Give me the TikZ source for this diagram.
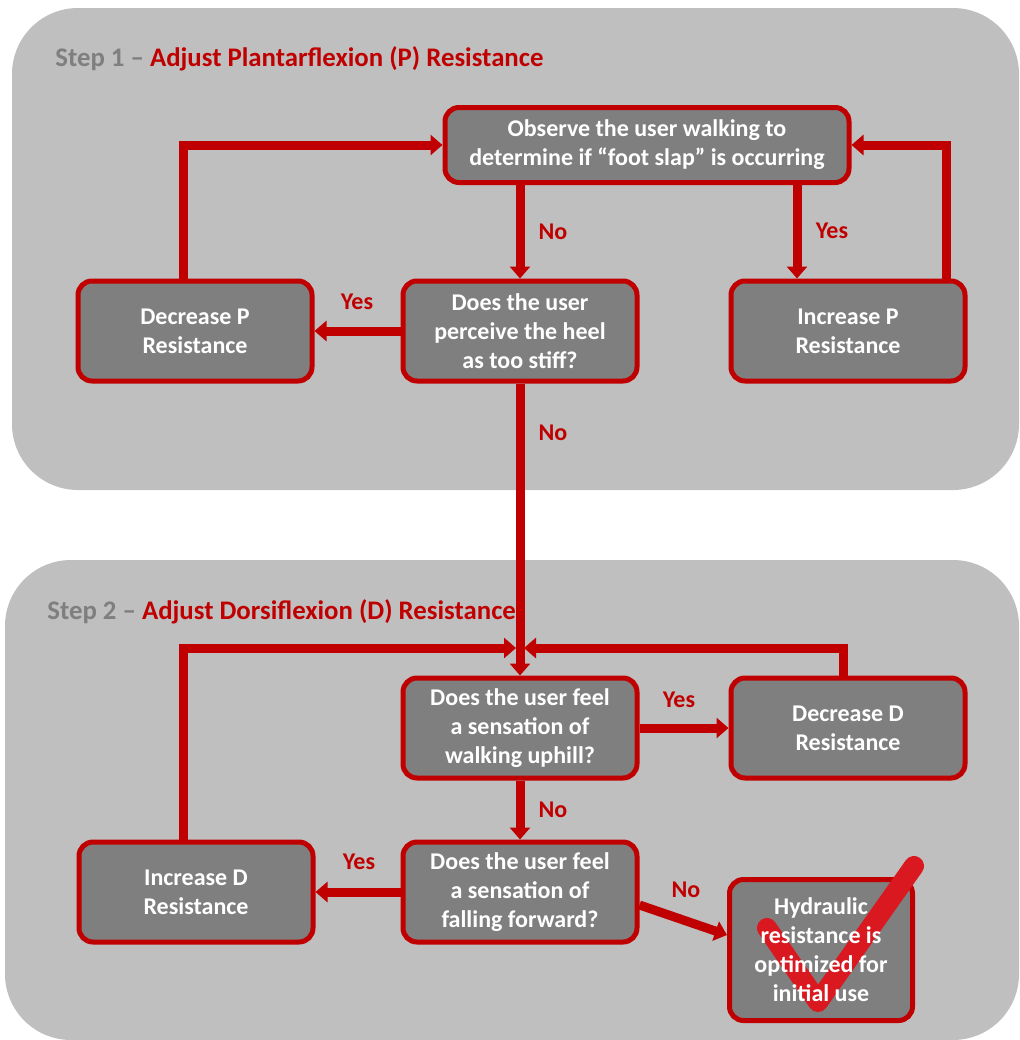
\documentclass[tikz,border=0pt]{standalone}
\usepackage{fontspec}
\setmainfont{Carlito}
\usetikzlibrary{arrows.meta, positioning, calc}
\definecolor{panel}{HTML}{BFBFBF}
\definecolor{slate}{HTML}{7F7F7F}
\definecolor{crimson}{HTML}{C00000}
\definecolor{checkred}{HTML}{DA1820}
\tikzset{
  font=\bfseries\fontsize{12}{14.5}\selectfont,
  >={Triangle[length=6pt, width=10pt]},
  %
  panelbox/.style={fill=panel, draw=none, rounded corners=33pt},
  qbox/.style={
    draw=crimson, line width=2.5pt, fill=slate, rounded corners=7pt,
    text=white, align=center, minimum width=117pt, minimum height=50pt,
    inner sep=2pt,
  },
  %
  flow/.style={draw=crimson, line width=4.5pt, ->},
  ans/.style={text=crimson, inner sep=1pt},
  steplbl/.style={anchor=base west, inner sep=0pt, text=slate,
                  font=\bfseries\fontsize{13.4}{16}\selectfont},
}

\begin{document}
\begin{tikzpicture}[x=0.5pt, y=-0.5pt]

  \useasboundingbox (0,0) rectangle (1019,1040);

  % the two step panels
  \fill[panelbox] (12,8) rectangle (1019,490);
  \fill[panelbox] (5,560) rectangle (1019,1040);

  \node[steplbl] (step1) at (55,66) {Step 1 -- \textcolor{crimson}{Adjust Plantarflexion (P) Resistance}};
  \node[steplbl] (step2) at (47,619) {Step 2 -- \textcolor{crimson}{Adjust Dorsiflexion (D) Resistance}};

  \node[qbox, minimum width=202pt, minimum height=37.5pt] (obs) at (647,145)
    {Observe the user walking to\\determine if ``foot slap'' is occurring};
  \node[qbox] (decp) at (195,331) {Decrease P\\Resistance};
  \node[qbox] (perc) at (520,331) {Does the user\\perceive the heel\\as too stiff?};
  \node[qbox] (incp) at (848,331) {Increase P\\Resistance};

  \node[qbox] (up)   at (520,728) {Does the user feel\\a sensation of\\walking uphill?};
  \node[qbox] (decd) at (848,728) {Decrease D\\Resistance};
  \node[qbox] (incd) at (196,892) {Increase D\\Resistance};
  \node[qbox] (fall) at (520,892) {Does the user feel\\a sensation of\\falling forward?};
  \node[qbox, minimum width=91.5pt, minimum height=70.5pt] (done) at (821,950) {};

  \coordinate (merge) at (520,648);

  % step 1 loop
  \draw[flow] (perc |- obs.south) -- (perc.north);
  \draw[flow] ([xshift=-25.5pt]incp.north |- obs.south) -- ([xshift=-25.5pt]incp.north);
  \draw[flow] ([xshift=49pt]incp.north) |- (obs.east);
  \draw[flow] ([xshift=-6pt]decp.north) |- (obs.west);
  \draw[flow] (perc.west) -- (decp.east);
  \draw[flow] (perc.south) -- (up.north);

  % step 2 loop
  \draw[flow, shorten >=2pt] ([xshift=-6.5pt]incd.north) |- (merge);
  \draw[flow, shorten >=2pt] ([xshift=-2.5pt]decd.north) |- (merge);
  \draw[flow] (up.east) -- (decd.west);
  \draw[flow] (up.south) -- (fall.north);
  \draw[flow] (fall.west) -- (incd.east);
  \draw[flow] ([yshift=-6.5pt]fall.east) -- ([yshift=7.5pt]done.west);

  \draw[checkred, line width=10pt, line cap=round, line join=round]
    (767,928) -- (818,1002) -- (914,866);
  \node[text=white, align=center] (donetxt) at (done)
    {Hydraulic\\resistance is\\optimized for\\initial use};

  \node[ans] (no1)  at (553,232) {No};
  \node[ans] (yes1) at (832,231) {Yes};
  \node[ans] (yes2) at (357,302) {Yes};
  \node[ans] (no2)  at (553,433) {No};
  \node[ans] (yes3) at (679,700) {Yes};
  \node[ans] (no3)  at (553,810) {No};
  \node[ans] (yes4) at (359,862) {Yes};
  \node[ans] (no4)  at (686,890) {No};

\end{tikzpicture}
\end{document}
